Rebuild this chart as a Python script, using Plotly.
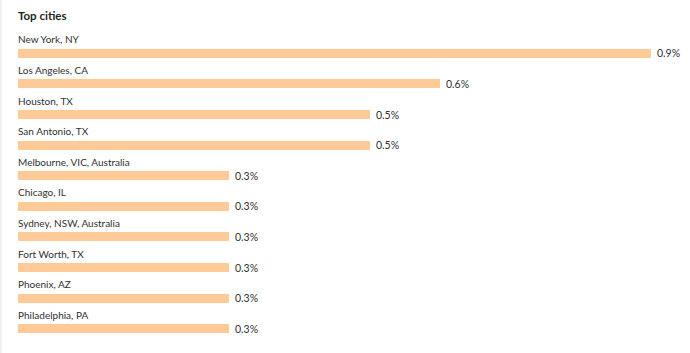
import plotly.graph_objects as go

cities = ["New York, NY", "Los Angeles, CA", "Houston, TX", "San Antonio, TX",
          "Melbourne, VIC, Australia", "Chicago, IL", "Sydney, NSW, Australia",
          "Fort Worth, TX", "Phoenix, AZ", "Philadelphia, PA"]
shares = [0.9, 0.6, 0.5, 0.5, 0.3, 0.3, 0.3, 0.3, 0.3, 0.3]
title_text = "Top cities"

W, H = 690, 353
ML, MR, MT, MB = 18, 0, 38, 9
plot_w = W - ML - MR
xmax = 0.9 * plot_w / 633.0

font_family = "Lato, 'Noto Sans', sans-serif"
text_color = "#2f3033"
bar_color = "#fecb98"

fig = go.Figure()
fig.add_trace(go.Bar(
    y=cities, x=shares, orientation="h",
    marker=dict(color=bar_color, line=dict(width=0)),
    width=0.29,
    hoverinfo="skip",
))

annotations = []
for c, v in zip(cities, shares):
    annotations.append(dict(
        x=0, y=c, xref="x", yref="y", text=c, showarrow=False,
        xanchor="left", yanchor="middle", yshift=14, xshift=-2,
        font=dict(family=font_family, size=10, color=text_color),
    ))
    annotations.append(dict(
        x=v, y=c, xref="x", yref="y", text=f"{v:.1f}%", showarrow=False,
        xanchor="left", yanchor="middle", xshift=4,
        font=dict(family=font_family, size=10.5, color=text_color),
    ))
annotations.append(dict(
    x=0, y=1, xref="paper", yref="paper", text="<b>" + title_text + "</b>",
    showarrow=False, xanchor="left", yanchor="middle", yshift=23, xshift=-2,
    font=dict(family=font_family, size=11.5, color="#1e1f22"),
))

fig.update_layout(
    width=W, height=H,
    margin=dict(l=ML, r=MR, t=MT, b=MB, pad=0),
    paper_bgcolor="white", plot_bgcolor="white",
    showlegend=False,
    xaxis=dict(range=[0, xmax], visible=False, fixedrange=True),
    yaxis=dict(type="category", autorange=False, range=[9.5, -0.5],
               visible=False, fixedrange=True),
    annotations=annotations,
    shapes=[dict(type="rect", xref="paper", yref="paper",
                 x0=-ML / plot_w, x1=-(ML - 2) / plot_w, y0=-MB / (H - MT - MB),
                 y1=1 + MT / (H - MT - MB), fillcolor="#edf2fa",
                 line=dict(width=0), layer="below")],
    bargap=0,
)

fig.write_html("out.html")
